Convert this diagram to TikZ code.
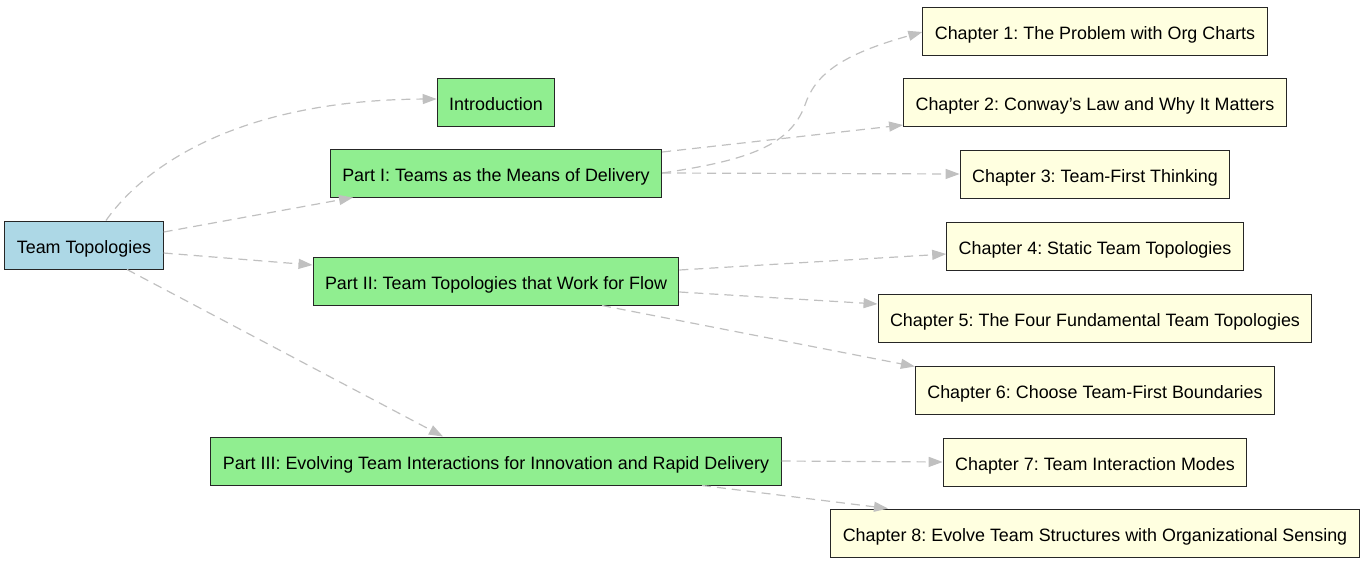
\documentclass[tikz,border=0pt]{standalone}
\usepackage{fontspec}
\setmainfont{Liberation Sans}
\usetikzlibrary{arrows.meta,calc}
\definecolor{rootc}{HTML}{ADD8E6}
\definecolor{partc}{HTML}{90EE90}
\definecolor{chapc}{HTML}{FFFFE0}
\definecolor{edgec}{HTML}{C0C0C0}
\frenchspacing
\tikzset{
  box/.style={draw=black!85, line width=1pt, rectangle, minimum height=48pt, inner xsep=12pt, inner ysep=0pt, text height=16pt, text depth=0pt, font=\fontsize{17.9}{20}\selectfont\frenchspacing, text=black},
  rootbox/.style={box, fill=rootc},
  partbox/.style={box, fill=partc},
  chapbox/.style={box, fill=chapc},
  link/.style={draw=edgec, line width=1.2pt, dash pattern=on 9pt off 6pt, -{Triangle[length=14pt,width=10pt,fill=edgec]}}
}
\begin{document}
\begin{tikzpicture}[x=1pt,y=-1pt]
\useasboundingbox (0,0) rectangle (1366,563);
\node[rootbox] (tt) at (84,245) {Team Topologies};
\node[partbox] (intro) at (496,102) {Introduction};
\node[partbox] (p1) at (496,173) {Part I: Teams as the Means of Delivery};
\node[partbox] (p2) at (496,281) {Part II: Team Topologies that Work for Flow};
\node[partbox] (p3) at (496,461) {Part III: Evolving Team Interactions for Innovation and Rapid Delivery};
\node[chapbox] (c1) at (1095,31) {Chapter 1: The Problem with Org Charts};
\node[chapbox] (c2) at (1095,102) {Chapter 2: Conway’s Law and Why It Matters};
\node[chapbox] (c3) at (1095,174) {Chapter 3: Team-First Thinking};
\node[chapbox] (c4) at (1095,246) {Chapter 4: Static Team Topologies};
\node[chapbox] (c5) at (1095,318) {Chapter 5: The Four Fundamental Team Topologies};
\node[chapbox] (c6) at (1095,390) {Chapter 6: Choose Team-First Boundaries};
\node[chapbox] (c7) at (1095,462) {Chapter 7: Team Interaction Modes};
\node[chapbox] (c8) at (1095,533) {Chapter 8: Evolve Team Structures with Organizational Sensing};

% root edges
\draw[link] ($(tt.north)+(22,0)$) .. controls (145,165) and (240,100) .. ($(intro.west)+(0,-3)$);
\draw[link] ($(tt.east)+(0,-13)$) -- ($(p1.south)+(-143,0)$);
\draw[link] ($(tt.east)+(0,8)$) -- ($(p2.west)+(0,-16)$);
\draw[link] ($(tt.south)+(43,0)$) -- ($(p3.north)+(-53,0)$);
% part I edges
\draw[link] (p1.east) .. controls (750,160) and (790,145) .. (805,105) .. controls (815,75) and (840,55) .. ($(c1.west)+(0,1)$);
\draw[link] ($(p1.east)+(0,-21)$) -- ($(c2.west)+(0,23)$);
\draw[link] (p1.east) -- (c3.west);
% part II edges
\draw[link] ($(p2.east)+(0,-11)$) -- ($(c4.west)+(0,8)$);
\draw[link] ($(p2.east)+(0,11)$) -- ($(c5.west)+(0,-14)$);
\draw[link] ($(p2.south)+(106,0)$) -- ($(c6.north west)+(0,1)$);
% part III edges
\draw[link] (p3.east) -- (c7.west);
\draw[link] ($(p3.south)+(206,0)$) -- ($(c8.north)+(-207,0)$);
\end{tikzpicture}
\end{document}
